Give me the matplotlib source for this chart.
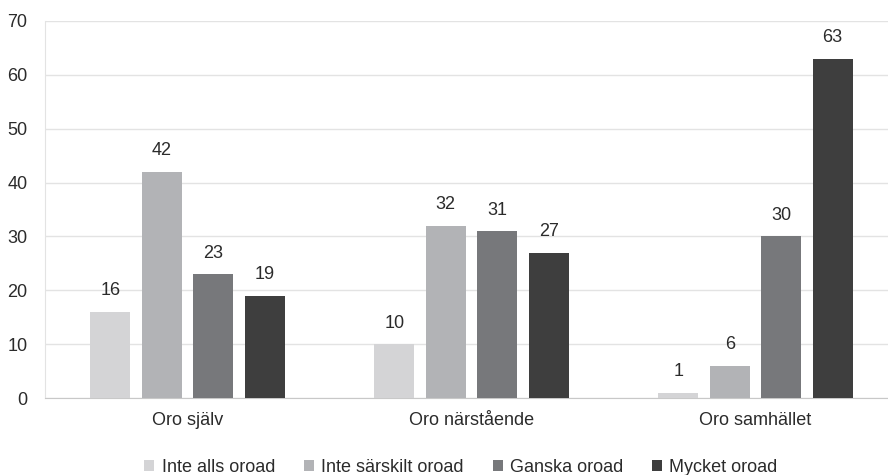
import numpy as np
import matplotlib.pyplot as plt

plt.rcParams['font.family'] = ['Liberation Sans', 'DejaVu Sans']

kategorier = ['Oro själv', 'Oro närstående', 'Oro samhället']
serier = ['Inte alls oroad', 'Inte särskilt oroad', 'Ganska oroad', 'Mycket oroad']
inte_alls = [16, 10, 1]
inte_sarskilt = [42, 32, 6]
ganska = [23, 31, 30]
mycket = [19, 27, 63]
farger = ['#d4d4d6', '#b2b3b6', '#77787b', '#3e3e3e']

varden = [inte_alls, inte_sarskilt, ganska, mycket]

fig = plt.figure(figsize=(8.88, 4.75), dpi=100)
# axeln fortsätter lite utanför bildens högerkant, som i originalet
ax = fig.add_axes([0.0512, 0.162, 0.9595, 0.794])

x = np.arange(len(kategorier))
b = 0.141
steg = 0.181
for i, (namn, v) in enumerate(zip(serier, varden)):
    pos = x + (i - 1.5)*steg
    staplar = ax.bar(pos, v, b, color=farger[i], label=namn, zorder=3)
    ax.bar_label(staplar, padding=9, fontsize=13, color='#2b2b2b')

ax.set_xlim(-0.5, 2.5)
ax.set_ylim(0, 70)
ax.set_yticks(range(0, 71, 10))
ax.set_xticks(x)
ax.set_xticklabels(kategorier)
ax.grid(axis='y', color='#e3e3e3', linewidth=1, zorder=0)
for s in ['top', 'right']:
    ax.spines[s].set_visible(False)
ax.spines['left'].set_color('#e3e3e3')
ax.spines['bottom'].set_color('#c8c8c8')
ax.tick_params(axis='both', length=0, labelsize=13, colors='#2b2b2b')
ax.tick_params(axis='y', pad=13)
ax.tick_params(axis='x', pad=10)

ax.legend(loc='center', bbox_to_anchor=(0.4877, -0.183), ncol=4, frameon=False,
          fontsize=13, handlelength=0.56, handleheight=0.56, handletextpad=0.4,
          columnspacing=1.6, labelcolor='#2b2b2b', borderpad=0.1)

fig.savefig('out.png', dpi=100)
